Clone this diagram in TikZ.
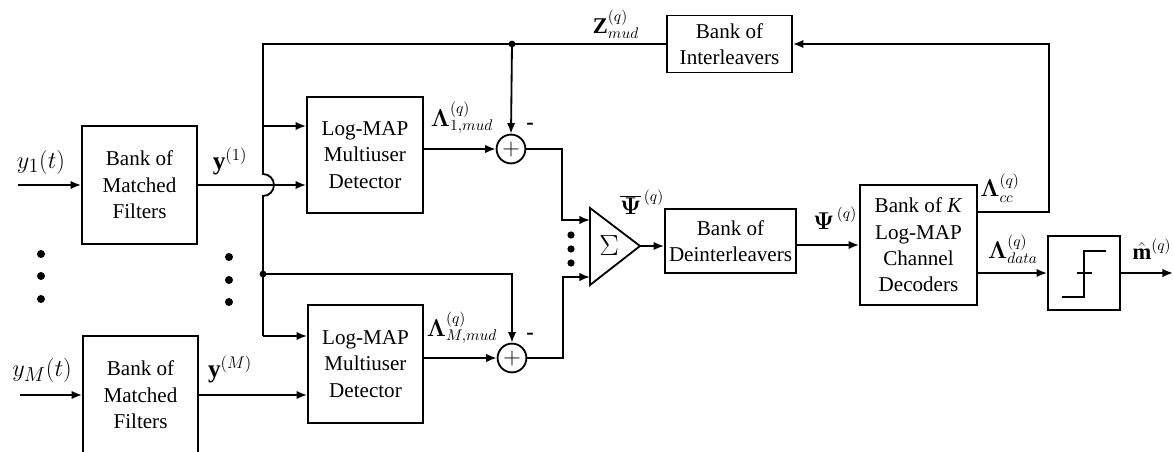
\documentclass[tikz,border=0pt]{standalone}
\usepackage{bm}
\usepackage{fontspec}
\setmainfont{Liberation Serif}
\usetikzlibrary{arrows.meta}
\begin{document}
\begin{tikzpicture}[x=0.025cm,y=-0.025cm,
    mudBlock/.style={rectangle,draw=black,line width=1.3pt,align=center,inner sep=1pt,font=\fontsize{15}{18.8}\selectfont},
    mudSum/.style={circle,draw=black,line width=1.3pt,minimum size=0.72cm,inner sep=0pt,font=\fontsize{16}{18}\selectfont},
    mudDot/.style={circle,fill=black,minimum size=0.2cm,inner sep=0pt},
    mudJoint/.style={circle,fill=black,minimum size=0.17cm,inner sep=0pt},
    mudArrow/.style={-{Latex[length=7.5pt,width=6pt]},line width=1.3pt},
    mudLine/.style={line width=1.3pt},
    mudLabel/.style={font=\fontsize{16}{18}\selectfont},
    mudBig/.style={font=\fontsize{19}{22}\selectfont},
]
\useasboundingbox (0,0) rectangle (1173,452);
\node[mudBlock,minimum width=2.875cm,minimum height=2.95cm] (mfOne) at (139.5,185) {Bank of\\Matched\\Filters};
\node[mudBlock,minimum width=2.875cm,minimum height=2.95cm] (mfM) at (140.5,395) {Bank of\\Matched\\Filters};
\node[mudBlock,minimum width=2.9cm,minimum height=2.9cm] (mudOne) at (365,155) {Log-MAP\\Multiuser\\Detector};
\node[mudBlock,minimum width=2.875cm,minimum height=2.95cm] (mudM) at (365.5,364) {Log-MAP\\Multiuser\\Detector};
\node[mudSum] (sumOne) at (511,149) {$+$};
\node[mudSum] (sumM) at (512,358) {$+$};
\node[mudBlock,minimum width=3.275cm,minimum height=1.6cm] (deint) at (730.5,241) {Bank of\\Deinterleavers};
\node[mudBlock,minimum width=3.125cm,minimum height=1.425cm] (intl) at (729.5,44) {Bank of\\Interleavers};
\node[mudBlock,minimum width=2.925cm,minimum height=3cm] (dec) at (918.5,245) {Bank of \textit{K}\\Log-MAP\\Channel\\Decoders};
\node[mudBlock,minimum width=1.8cm,minimum height=1.85cm] (hd) at (1084,273) {};
\draw[mudLine] (590,208) -- (640,246) -- (590,285) -- cycle;
\node[font=\fontsize{21}{22}\selectfont] (sig) at (609,246) {$\Sigma$};
\coordinate (sigInOne) at (590,220);
\coordinate (sigInM) at (590,277);
\coordinate (sigOut) at (640,246);
\coordinate (inOne) at (18,185);
\coordinate (inM) at (20,395);
\coordinate (busTop) at (263,44);
\coordinate (busBranch) at (263,126);
\coordinate (busJoint) at (263,274);
\coordinate (busEnd) at (263,336);
\coordinate (zJoint) at (512,44);
\coordinate (ccTurn) at (1049,212);
\coordinate (mOut) at (1173,273);
\draw[mudArrow] (inOne) -- (inOne -| mfOne.west);
\draw[mudArrow] (inM) -- (inM -| mfM.west);
\draw[mudArrow] (mfOne.east) -- (mfOne.east -| mudOne.west);
\draw[mudArrow] (mfM.east) -- (mfM.east -| mudM.west);
\draw[mudLine] (intl.west |- busTop) -- (busTop) -- (263,174) arc[start angle=90,end angle=-90,radius=0.275cm] -- (busEnd);
\draw[mudArrow] (busBranch) -- (busBranch -| mudOne.west);
\draw[mudArrow] (busEnd) -- (busEnd -| mudM.west);
\draw[mudArrow] (zJoint) -- (sumOne.north);
\draw[mudArrow] (busJoint) -| (sumM.north);
\draw[mudArrow] (mudOne.east |- sumOne) -- (sumOne.west);
\draw[mudArrow] (mudM.east |- sumM) -- (sumM.west);
\draw[mudArrow] (sumOne.east) -- ++(36,0) |- (sigInOne);
\draw[mudArrow] (sumM.east) -- ++(36,0) |- (sigInM);
\draw[mudArrow] (sigOut) -- (sigOut -| deint.west);
\draw[mudArrow] (deint.east |- dec) -- (dec.west);
\draw[mudArrow] (dec.east |- ccTurn) -- (ccTurn) |- (intl.east);
\draw[mudArrow] (dec.east |- hd) -- (hd.west);
\draw[mudArrow] (hd.east) -- (mOut);
\draw[mudLine] (hd.center) ++(-22,24) -- ++(22,0) -- ++(0,-46) -- ++(22,0);
\draw[mudLine] (hd.center) ++(-7,0) -- ++(15,0);
\node[mudJoint] (dotZ) at (zJoint) {};
\node[mudJoint] (dotBus) at (busJoint) {};
\foreach \yy/\nm in {254/a,276/b,299/c} \node[mudDot] (dotL\nm) at (41,\yy) {};
\foreach \yy/\nm in {257/a,280/b,302/c} \node[mudDot] (dotC\nm) at (229,\yy) {};
\foreach \yy/\nm in {235/a,249/b,263/c} \node[mudDot,minimum size=0.18cm] (dotS\nm) at (571,\yy) {};
\node[mudBig] (lblYOne) at (41,162) {$y_1(t)$};
\node[mudBig] (lblYM) at (42,370) {$y_M(t)$};
\node[font=\fontsize{18}{20}\selectfont] (lblVecOne) at (230,161) {$\mathbf{y}^{(1)}$};
\node[font=\fontsize{18}{20}\selectfont] (lblVecM) at (230,369) {$\mathbf{y}^{(M)}$};
\node[mudLabel] (lblLamOne) at (462,118) {$\bm{\Lambda}^{(q)}_{1,mud}$};
\node[mudLabel] (lblLamM) at (462,328) {$\bm{\Lambda}^{(q)}_{M,mud}$};
\node[mudLabel] (minOne) at (530,126) {\textbf{-}};
\node[mudLabel] (minM) at (530,336) {\textbf{-}};
\node[mudLabel] (lblZ) at (616,24) {$\mathbf{Z}^{(q)}_{mud}$};
\node[mudLabel] (lblPsiBar) at (642,202) {$\overline{\bm{\Psi}}^{\,(q)}$};
\node[mudLabel] (lblPsi) at (835,218) {$\bm{\Psi}^{\,(q)}$};
\node[mudLabel] (lblCc) at (1000,188) {$\bm{\Lambda}^{(q)}_{cc}$};
\node[mudLabel] (lblData) at (1013,249) {$\bm{\Lambda}^{(q)}_{data}$};
\node[mudLabel,inner sep=0pt] (lblM) at (1152,249) {$\hat{\mathbf{m}}^{(q)}$};
\end{tikzpicture}
\end{document}
